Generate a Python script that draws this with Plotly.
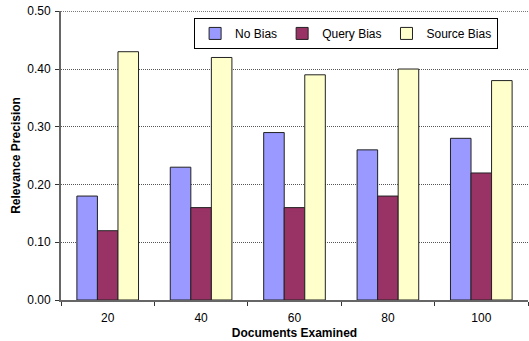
import plotly.graph_objects as go

categories = ["20", "40", "60", "80", "100"]
no_bias = [0.18, 0.23, 0.29, 0.26, 0.28]
query_bias = [0.12, 0.16, 0.16, 0.18, 0.22]
source_bias = [0.43, 0.42, 0.39, 0.40, 0.38]
y_ticks = [0, 0.1, 0.2, 0.3, 0.4, 0.5]

fig = go.Figure()
for name, vals, color in [("No Bias", no_bias, "#9999FF"),
                          ("Query Bias", query_bias, "#993366"),
                          ("Source Bias", source_bias, "#FFFFCC")]:
    fig.add_trace(go.Bar(x=categories, y=vals, name=name, marker_color=color,
                         marker_line_color="#222222", marker_line_width=1))

fig.add_hline(y=y_ticks[-1], line=dict(color="#555555", width=1, dash="1px,1px"), layer="below")

fig.update_layout(
    width=529, height=341,
    margin=dict(l=61, r=1, t=11, b=41),
    plot_bgcolor="white", paper_bgcolor="white",
    barmode="group", bargap=0.34, bargroupgap=0,
    font=dict(family="Liberation Sans, Arial", size=12, color="black"),
    legend=dict(orientation="h", x=0.285, y=0.976, xanchor="left", yanchor="top",
                bordercolor="black", borderwidth=1, bgcolor="white",
                font=dict(size=12), itemwidth=30, tracegroupgap=0),
    xaxis=dict(title=dict(text="<b>Documents Examined</b>", standoff=4, font=dict(size=12)),
               showline=True, linecolor="#666666", linewidth=2,
               ticks="outside", tickson="boundaries", ticklen=4, tickcolor="#333333",
               ticklabelstandoff=6, showgrid=False),
    yaxis=dict(title=dict(text="<b>Relevance Precision</b>", standoff=4, font=dict(size=12)),
               range=[0, 0.5005], tickvals=y_ticks, tickformat=".2f",
               ticklabeloverflow="allow", ticklabelstandoff=2,
               showline=True, linecolor="#666666", linewidth=2,
               ticks="outside", ticklen=4, tickcolor="#333333",
               showgrid=True, gridcolor="#555555", griddash="1px,1px", gridwidth=1,
               zeroline=False),
)
fig.write_html("out.html", config={"displayModeBar": False},
               post_script="document.body.style.margin='0';")
